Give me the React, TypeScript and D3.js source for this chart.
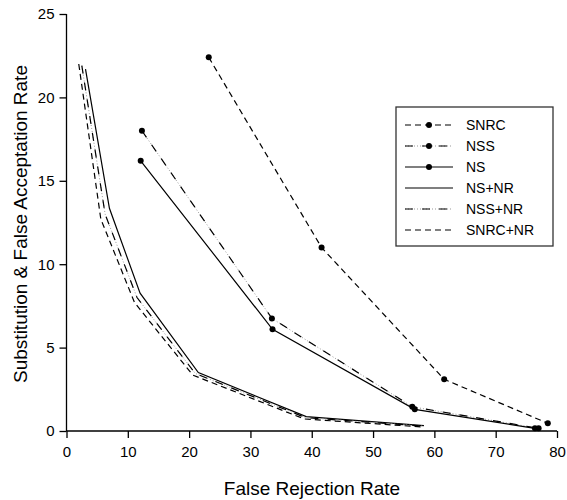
import React, { useEffect, useRef } from 'react'
import * as d3 from 'd3'

// series with markers
const snrcX = [23.2, 41.6, 61.6, 78.5]
const snrcY = [22.4, 11.0, 3.1, 0.46]
const nssX = [12.3, 33.5, 56.4, 77.0]
const nssY = [18.0, 6.75, 1.45, 0.16]
const nsX = [12.1, 33.6, 56.8, 76.4]
const nsY = [16.2, 6.1, 1.3, 0.16]

// series without markers
const nsNrX = [3.1, 7.0, 12.0, 21.5, 39.1, 58.3]
const nsNrY = [21.7, 13.35, 8.26, 3.5, 0.86, 0.32]
const nssNrX = [2.5, 6.3, 11.5, 21.0, 39.0, 58.0]
const nssNrY = [21.9, 13.0, 8.0, 3.45, 0.8, 0.3]
const snrcNrX = [2.0, 5.6, 11.1, 20.6, 38.8, 57.8]
const snrcNrY = [22.0, 12.7, 7.7, 3.35, 0.72, 0.25]

const xTicks = [0, 10, 20, 30, 40, 50, 60, 70, 80]
const yTicks = [0, 5, 10, 15, 20, 25]

// style: 'dash' | 'dashdot' | 'solid'
const series = [
  { name: 'SNRC', xs: snrcX, ys: snrcY, style: 'dash', dots: true },
  { name: 'NSS', xs: nssX, ys: nssY, style: 'dashdot', dots: true },
  { name: 'NS', xs: nsX, ys: nsY, style: 'solid', dots: true },
  { name: 'NS+NR', xs: nsNrX, ys: nsNrY, style: 'solid', dots: false },
  { name: 'NSS+NR', xs: nssNrX, ys: nssNrY, style: 'dashdot', dots: false },
  { name: 'SNRC+NR', xs: snrcNrX, ys: snrcNrY, style: 'dash', dots: false },
]

function stroke(sel: any, style: string) {
  // draws one or two paths with the given "d" / line attrs applied by caller
  return sel
}

export default function App() {
  const svgRef = useRef<SVGSVGElement>(null)

  useEffect(() => {
    const svg = d3.select(svgRef.current)
    svg.selectAll('*').remove()
    const font = 'Liberation Sans, Arial, sans-serif'

    const x = d3.scaleLinear().domain([0, 80]).range([66.5, 557])
    const y = d3.scaleLinear().domain([0, 25]).range([431, 14])

    const xAxis = svg.append('g')
      .attr('transform', 'translate(0,431)')
      .call(d3.axisBottom(x).tickValues(xTicks).tickSize(7).tickPadding(8))
    const yAxis = svg.append('g')
      .attr('transform', 'translate(66.5,0)')
      .call(d3.axisLeft(y).tickValues(yTicks).tickSize(7).tickPadding(5))
    for (const g of [xAxis, yAxis]) {
      g.select('.domain').attr('stroke', '#000').attr('stroke-width', 1.3)
      g.selectAll('.tick line').attr('stroke', '#000').attr('stroke-width', 1.3)
      g.selectAll('.tick text').attr('font-family', font).attr('font-size', 15).attr('fill', '#000')
    }
    xAxis.select('.domain').attr('d', `M${x(0)},0H${x(80)}`)
    yAxis.select('.domain').attr('d', `M0,${y(0)}V${y(25)}`)

    svg.append('text')
      .attr('x', 312).attr('y', 495)
      .attr('text-anchor', 'middle')
      .attr('font-family', font).attr('font-size', 19)
      .text('False Rejection Rate')
    svg.append('text')
      .attr('transform', 'translate(27,224) rotate(-90)')
      .attr('text-anchor', 'middle')
      .attr('font-family', font).attr('font-size', 19)
      .text('Substitution & False Acceptation Rate')

    const line = d3.line<[number, number]>().x(d => x(d[0])).y(d => y(d[1]))

    const drawPath = (parent: any, d: string, style: string) => {
      if (style === 'dashdot') {
        parent.append('path').attr('d', d).attr('fill', 'none')
          .attr('stroke', '#999').attr('stroke-width', 1).attr('stroke-dasharray', '1,2')
        parent.append('path').attr('d', d).attr('fill', 'none')
          .attr('stroke', '#000').attr('stroke-width', 1.2).attr('stroke-dasharray', '8,9')
      } else {
        parent.append('path').attr('d', d).attr('fill', 'none')
          .attr('stroke', '#000').attr('stroke-width', 1.2)
          .attr('stroke-dasharray', style === 'dash' ? '6,4' : null)
      }
    }

    series.forEach(s => {
      const pts = s.xs.map((v, i) => [v, s.ys[i]] as [number, number])
      drawPath(svg, line(pts) as string, s.style)
      if (s.dots) {
        svg.selectAll(null).data(pts).enter().append('circle')
          .attr('cx', d => x(d[0])).attr('cy', d => y(d[1]))
          .attr('r', 3).attr('fill', '#000')
      }
    })

    // legend
    const lg = svg.append('g')
    lg.append('rect')
      .attr('x', 396).attr('y', 107).attr('width', 157).attr('height', 139)
      .attr('fill', '#fff').attr('stroke', '#333').attr('stroke-width', 1.3)
    series.forEach((s, i) => {
      const yy = 125 + i * 21
      drawPath(lg, `M405,${yy}H453`, s.style)
      if (s.dots) lg.append('circle').attr('cx', 429).attr('cy', yy).attr('r', 3).attr('fill', '#000')
      lg.append('text')
        .attr('x', 466).attr('y', yy + 5)
        .attr('font-family', font).attr('font-size', 14)
        .text(s.name)
    })
  }, [])

  return (
    <svg ref={svgRef} width={567} height={500}
      style={{ position: 'absolute', left: 0, top: 0, background: '#fff' }} />
  )
}
